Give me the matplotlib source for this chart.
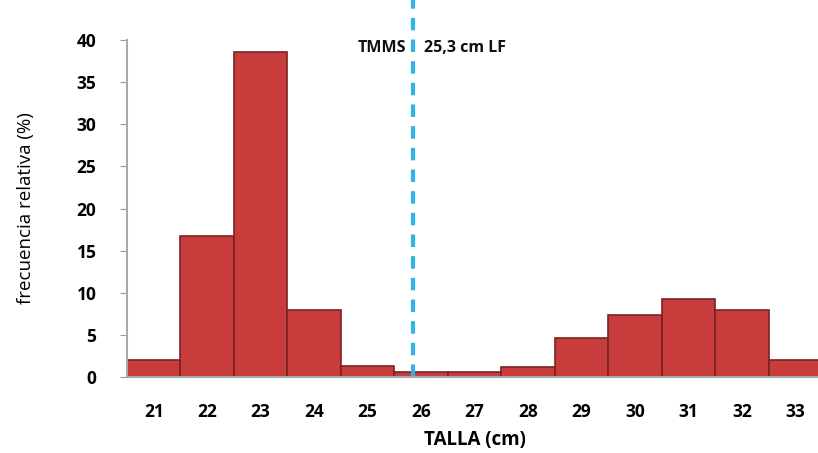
import matplotlib
matplotlib.use("Agg")
from matplotlib import pyplot as plt

# datos
tallas = [21, 22, 23, 24, 25, 26, 27, 28, 29, 30, 31, 32, 33]
frecuencia = [2.0, 16.7, 38.6, 8.0, 1.3, 0.6, 0.6, 1.2, 4.6, 7.3, 9.3, 8.0, 2.0]
tmms_pos = 25.85  # posicion de la linea TMMS en el eje de categorias
yticks = [0, 5, 10, 15, 20, 25, 30, 35, 40]

plt.rcParams['font.family'] = ['Open Sans', 'DejaVu Sans']

fig = plt.figure(figsize=(8.18, 4.53), dpi=100)
ax = fig.add_axes([127 / 818, 1 - 377 / 453, (822 - 127) / 818, (377 - 40) / 453])

ax.bar(tallas, frecuencia, width=1.0, color='#c83c3c', edgecolor='#7a2222', linewidth=1.2)

ax.axvline(tmms_pos, ymin=0, ymax=1.12, color='#2cb5e8', linewidth=3, linestyle=(0, (3, 2.2)), clip_on=False)
ax.text(tmms_pos - 0.12, 39.0, 'TMMS', ha='right', va='center', fontsize=11.5, fontweight='bold', color='#111111')
ax.text(tmms_pos + 0.2, 39.0, '25,3 cm LF', ha='left', va='center', fontsize=11.5, fontweight='bold', color='#111111')

ax.set_xlim(20.5, 33.5)
ax.set_ylim(0, 40)
ax.set_yticks(yticks)
ax.set_xticks(tallas)
ax.tick_params(axis='y', labelsize=12.5, length=5, color='#999999', pad=17)
ax.tick_params(axis='x', labelsize=12.5, length=0, pad=19)
for lab in ax.get_xticklabels() + ax.get_yticklabels():
    lab.set_fontweight('bold')

for s in ['top', 'right']:
    ax.spines[s].set_visible(False)
ax.spines['left'].set_color('#aaaaaa')
ax.spines['bottom'].set_color('#aaaaaa')
ax.spines['left'].set_linewidth(1.5)
ax.spines['bottom'].set_linewidth(1.5)

ax.set_ylabel('frecuencia relativa (%)', fontsize=13.5, labelpad=30)
ax.set_xlabel('TALLA (cm)', fontsize=13.5, fontweight='bold', labelpad=6)

fig.savefig('out.png', dpi=100)
